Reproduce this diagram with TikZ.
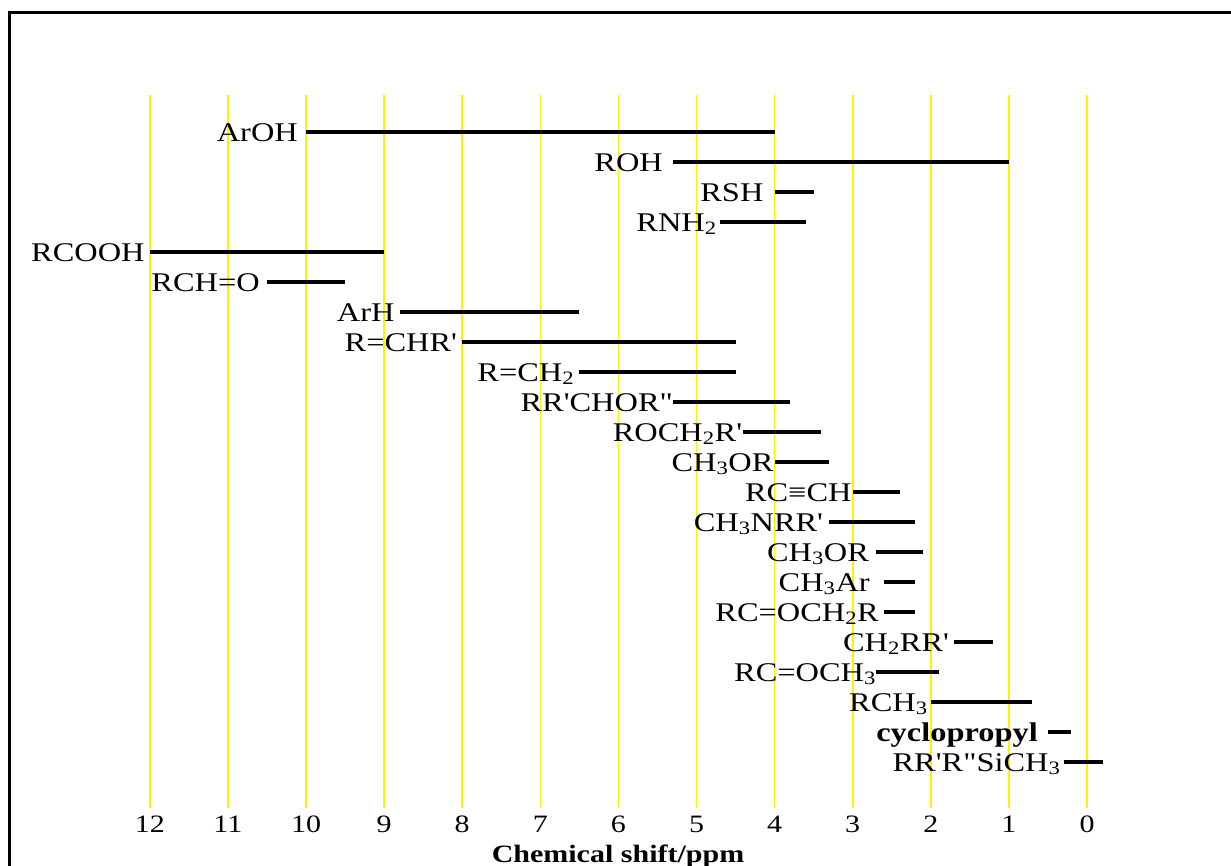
\documentclass[tikz,border=0pt]{standalone}
\usepackage{fontspec}
\setmainfont{Liberation Serif}[FakeStretch=1.2,Ligatures=TeXOff]
\usetikzlibrary{calc}
\tikzset{shiftline/.style={yellow, line width=1.6pt}}
\tikzset{bar/.style={line width=3.6pt}}
\tikzset{lbl/.style={anchor=base east, inner sep=0pt, font=\fontsize{27}{30}\selectfont}}
\tikzset{tick/.style={anchor=base, inner sep=0pt, font=\fontsize{25}{28}\selectfont}}

\begin{document}
\begin{tikzpicture}[x=1pt,y=-1pt]
      \useasboundingbox (0,0) rectangle (1231,865);
      \draw[line width=3pt] (9,870) -- (9,12) -- (1240,12);
      \foreach \p in {0,...,12} {
        \coordinate (top\p) at ({1087-78.1*\p},95);
        \coordinate (bot\p) at ({1087-78.1*\p},808);
        \draw[shiftline] (top\p) -- (bot\p);
        \node[tick] (n\p) at ($(bot\p)+(0,24)$) {\p};
      }
      \foreach \a/\b/\i/\g/\lab in {10/4/0/8/ArOH, 5.3/1/1/10/ROH, 4/3.5/2/11/RSH,
          4.7/3.6/3/3/RNH\textsubscript{2}, 12/9/4/5/RCOOH, 10.5/9.5/5/7/RCH=O,
          8.8/6.5/6/5/ArH, 8/4.5/7/5/R=CHR', 6.5/4.5/8/5/R=CH\textsubscript{2},
          5.3/3.8/9/0/RR'CHOR", 4.4/3.4/10/1/ROCH\textsubscript{2}R',
          4/3.3/11/1/CH\textsubscript{3}OR, 3/2.4/12/1/RC≡CH,
          3.3/2.2/13/6/CH\textsubscript{3}NRR', 2.7/2.1/14/7/CH\textsubscript{3}OR,
          2.6/2.2/15/14/CH\textsubscript{3}Ar, 2.6/2.2/16/5/RC=OCH\textsubscript{2}R,
          1.7/1.2/17/5/CH\textsubscript{2}RR', 2.7/1.9/18/0/RC=OCH\textsubscript{3},
          2/0.7/19/3/RCH\textsubscript{3}, 0.5/0.2/20/10/\textbf{cyclopropyl},
          0.3/-0.2/21/3/RR'R"SiCH\textsubscript{3}} {
        \coordinate (s\i) at ({1087-78.1*\a},{132+30*\i});
        \coordinate (e\i) at ({1087-78.1*\b},{132+30*\i});
        \draw[bar] (s\i) -- (e\i);
        \node[lbl] (l\i) at ($(s\i)+(-\g,9)$) {\lab};
      }
      \node[anchor=base, inner sep=0pt, font=\fontsize{25}{28}\selectfont\bfseries] (title) at (618,862) {Chemical shift/ppm};
    \end{tikzpicture}
\end{document}
